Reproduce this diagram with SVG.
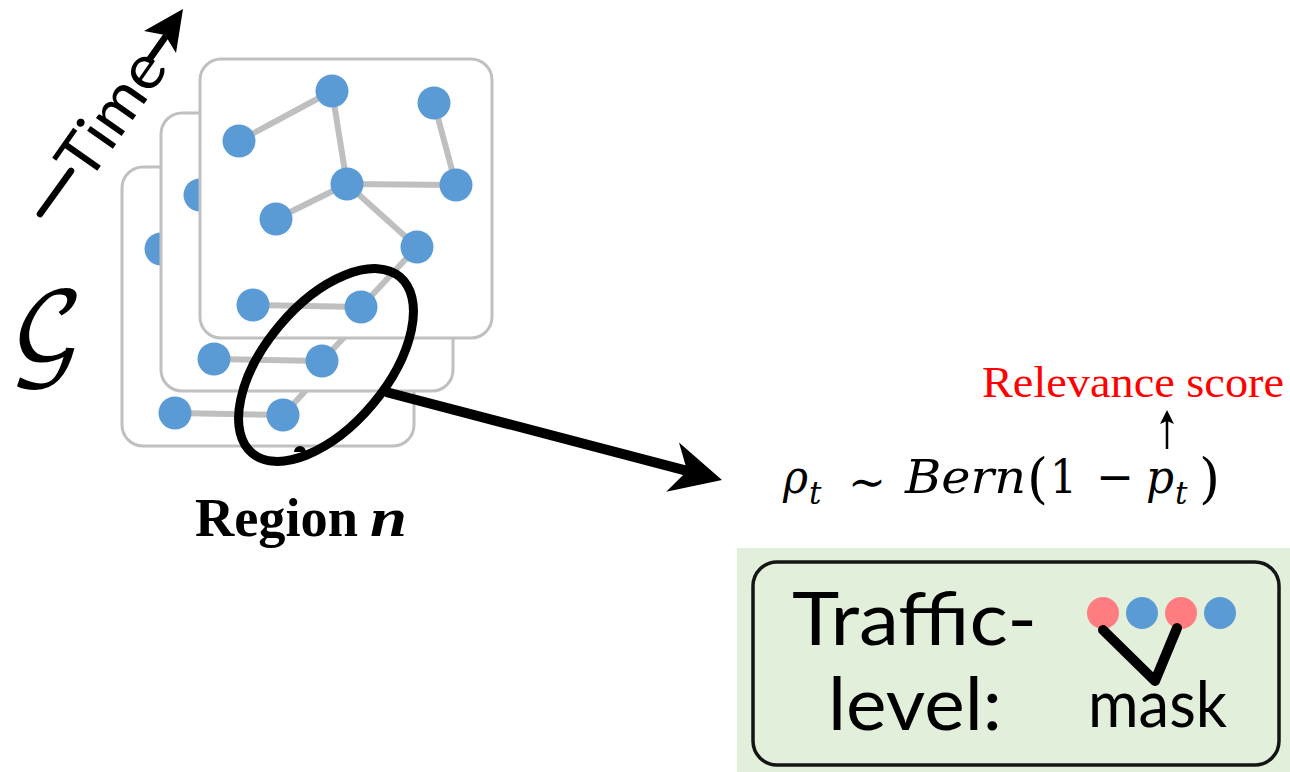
<svg xmlns="http://www.w3.org/2000/svg" xmlns:xlink="http://www.w3.org/1999/xlink" width="1290" height="772" viewBox="0 0 1290 772">
  <style>
    .card { fill: #ffffff; stroke: #c0c0c0; stroke-width: 3; }
    .edge { stroke: #bfbfbf; stroke-width: 6; stroke-linecap: round; fill: none; }
    .node { fill: #5b9bd5; }
    .pink { fill: #ff7c80; }
    .ink { fill: #000000; }
    .math { font-family: "DejaVu Serif", "Liberation Serif", serif; font-size: 47px; fill: #000; }
    .mi { font-style: italic; }
    .sub { font-size: 31px; }
    .paren { font-size: 54px; }
    .sans { font-family: Lato, "Open Sans", "Liberation Sans", sans-serif; fill: #000; }
  </style>
  <defs>
    <!-- one road-network snapshot; reused for each time step -->
    <g id="graph">
      <line class="edge" x1="239" y1="141" x2="332" y2="91"/>
      <line class="edge" x1="332" y1="91" x2="347" y2="184"/>
      <line class="edge" x1="434" y1="103" x2="456" y2="185"/>
      <line class="edge" x1="347" y1="184" x2="456" y2="185"/>
      <line class="edge" x1="347" y1="184" x2="276" y2="219"/>
      <line class="edge" x1="347" y1="184" x2="417" y2="247"/>
      <line class="edge" x1="417" y1="247" x2="361" y2="307"/>
      <line class="edge" x1="253" y1="305" x2="361" y2="307"/>
      <circle class="node" cx="332" cy="91" r="16.5"/>
      <circle class="node" cx="434" cy="103" r="16.5"/>
      <circle class="node" cx="239" cy="141" r="16.5"/>
      <circle class="node" cx="347" cy="184" r="16.5"/>
      <circle class="node" cx="456" cy="185" r="16.5"/>
      <circle class="node" cx="276" cy="219" r="16.5"/>
      <circle class="node" cx="417" cy="247" r="16.5"/>
      <circle class="node" cx="253" cy="305" r="16.5"/>
      <circle class="node" cx="361" cy="307" r="16.5"/>
    </g>
  </defs>

  <rect x="0" y="0" width="1290" height="772" fill="#ffffff"/>

  <!-- time axis -->
  <g id="time-axis">
    <line x1="40" y1="214" x2="71" y2="171" stroke="#000" stroke-width="6.5" stroke-linecap="round"/>
    <text class="sans" x="88" y="184" font-size="62" textLength="142" lengthAdjust="spacingAndGlyphs" transform="rotate(-55 88 184)">Time</text>
    <line x1="149" y1="60" x2="166" y2="36" stroke="#000" stroke-width="6.5"/>
    <polygon class="ink" points="183,9 176,53 165,35 144,31"/>
  </g>

  <!-- graph snapshots, oldest at the back -->
  <g id="snapshot-3">
    <rect class="card" x="122" y="167" width="292" height="279" rx="21"/>
    <use xlink:href="#graph" href="#graph" transform="translate(-78,108)"/>
  </g>
  <g id="snapshot-2">
    <rect class="card" x="161" y="113" width="292" height="278" rx="21"/>
    <use xlink:href="#graph" href="#graph" transform="translate(-39,54)"/>
  </g>
  <g id="snapshot-1">
    <rect class="card" x="200" y="59" width="292" height="279" rx="21"/>
    <use xlink:href="#graph" href="#graph"/>
  </g>

  <g id="graph-label">
    <text x="9" y="364" font-family="'DejaVu Math TeX Gyre', 'DejaVu Serif', serif" font-size="100" fill="#000">𝒢</text>
  </g>

  <!-- highlighted region -->
  <g id="region">
    <path class="ink" d="M294,452 a6,6 0 0 1 12,0 z"/>
    <ellipse cx="326" cy="365" rx="115" ry="61" transform="rotate(-50 326 365)" fill="none" stroke="#000" stroke-width="9"/>
    <text x="195" y="536" font-family="'Liberation Serif', serif" font-size="55" font-weight="bold" fill="#000" textLength="163" lengthAdjust="spacingAndGlyphs">Region</text>
    <text x="370" y="536" font-family="'Liberation Serif', serif" font-size="55" font-weight="bold" font-style="italic" fill="#000" textLength="37" lengthAdjust="spacingAndGlyphs">n</text>
  </g>

  <!-- connectors -->
  <g id="connectors">
    <line x1="386" y1="392" x2="690" y2="471.6" stroke="#000" stroke-width="10"/>
    <polygon class="ink" points="722,480 679,442.4 687.2,470.9 666.2,491.8"/>
    <line x1="1167" y1="449" x2="1167" y2="420" stroke="#000" stroke-width="2.5"/>
    <polygon class="ink" points="1167,410 1174,424 1167,421 1160,424"/>
  </g>

  <!-- sampling rule -->
  <g id="formula">
    <text class="math mi" x="783" y="493" textLength="25" lengthAdjust="spacingAndGlyphs">ρ</text>
    <text class="math mi sub" x="809" y="504">t</text>
    <text class="math" x="848" y="498" font-size="62" textLength="38" lengthAdjust="spacingAndGlyphs">∼</text>
    <text class="math mi" x="905" y="493" textLength="121" lengthAdjust="spacingAndGlyphs">Bern</text>
    <text class="math paren" x="1027" y="497">(</text>
    <text class="math" x="1050" y="493" textLength="27" lengthAdjust="spacingAndGlyphs">1</text>
    <text class="math" x="1096" y="493" textLength="38" lengthAdjust="spacingAndGlyphs">−</text>
    <text class="math mi" x="1146" y="493" textLength="28" lengthAdjust="spacingAndGlyphs">p</text>
    <text class="math mi sub" x="1175" y="504">t</text>
    <text class="math paren" x="1199" y="497">)</text>
  </g>
  <g id="relevance-label">
    <text x="982" y="397" font-family="'Liberation Serif', serif" font-size="44" fill="#ff0000" textLength="302" lengthAdjust="spacingAndGlyphs">Relevance score</text>
  </g>

  <!-- traffic-level masking panel -->
  <g id="traffic-level">
    <rect x="737" y="548" width="553" height="224" fill="#e2efda"/>
    <rect x="753" y="562" width="526" height="203" rx="24" fill="none" stroke="#141414" stroke-width="3.5"/>
    <text class="sans" x="792" y="645" font-size="74" textLength="245" lengthAdjust="spacingAndGlyphs">Traffic-</text>
    <text class="sans" x="828" y="730" font-size="74" textLength="174" lengthAdjust="spacingAndGlyphs">level:</text>
    <circle class="pink" cx="1103" cy="613" r="16"/>
    <circle class="node" cx="1142" cy="613" r="16"/>
    <circle class="pink" cx="1181" cy="613" r="16"/>
    <circle class="node" cx="1220" cy="613" r="16"/>
    <polyline points="1103,630 1155,681 1177,628" fill="none" stroke="#000" stroke-width="10" stroke-linecap="round" stroke-linejoin="round"/>
    <text class="sans" x="1088" y="727" font-size="64" textLength="139" lengthAdjust="spacingAndGlyphs">mask</text>
  </g>
</svg>
